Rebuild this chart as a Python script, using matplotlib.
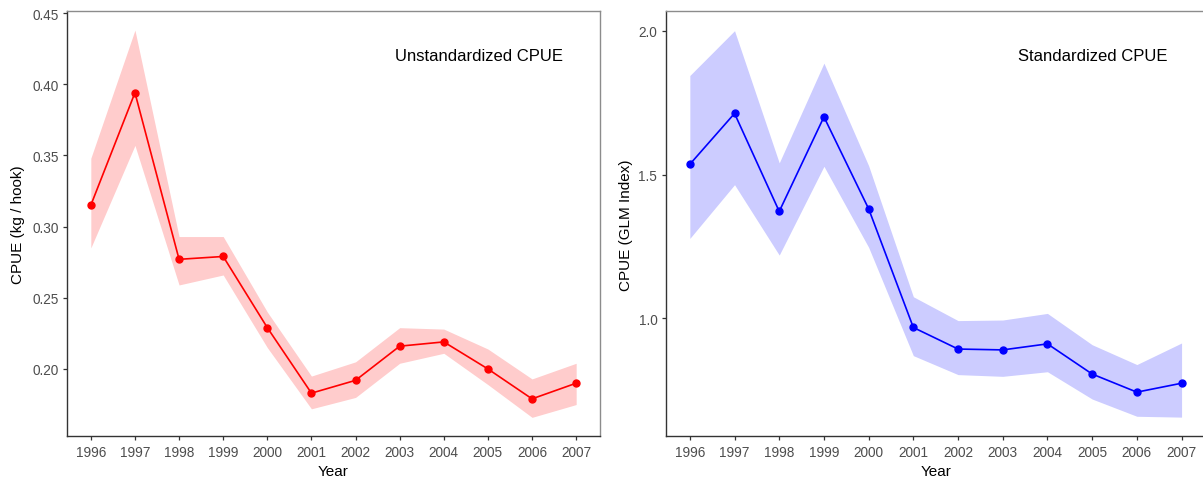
import matplotlib

matplotlib.use("Agg")
import matplotlib.pyplot as plt

plt.rcParams["font.family"] = ["Liberation Sans", "DejaVu Sans"]

YEARS = list(range(1996, 2008))

# unstandardized CPUE (kg / hook) with ribbon bounds
RAW_CPUE = [0.315, 0.394, 0.277, 0.279, 0.229, 0.183, 0.192, 0.216, 0.219, 0.200, 0.179, 0.190]
RAW_LO = [0.285, 0.357, 0.259, 0.266, 0.215, 0.172, 0.180, 0.204, 0.211, 0.189, 0.166, 0.175]
RAW_HI = [0.348, 0.438, 0.293, 0.293, 0.240, 0.195, 0.205, 0.229, 0.228, 0.214, 0.193, 0.204]
RAW_TICKS = [0.20, 0.25, 0.30, 0.35, 0.40, 0.45]

# standardized CPUE (GLM index) with ribbon bounds
GLM_CPUE = [1.536, 1.713, 1.372, 1.701, 1.381, 0.968, 0.893, 0.890, 0.911, 0.806, 0.743, 0.774]
GLM_LO = [1.278, 1.465, 1.220, 1.529, 1.247, 0.870, 0.804, 0.798, 0.814, 0.719, 0.659, 0.656]
GLM_HI = [1.845, 2.001, 1.541, 1.888, 1.531, 1.075, 0.992, 0.994, 1.017, 0.908, 0.839, 0.914]
GLM_TICKS = [1.0, 1.5, 2.0]

W, H = 1203, 481


def panel(fig, rect, y, lo, hi, color, fill, label, label_x, ylabel, yticks, fmt, ylim, ylab_x):
    ax = fig.add_axes(rect)
    ax.fill_between(YEARS, lo, hi, color=fill, linewidth=0, zorder=1)
    ax.plot(YEARS, y, color=color, linewidth=1.2, marker="o", markersize=5, zorder=3)
    ax.set_xlim(1995.46, 2007.54)
    ax.set_ylim(*ylim)
    ax.set_xticks(YEARS)
    ax.set_yticks(yticks)
    ax.set_yticklabels([fmt.format(t) for t in yticks])
    ax.tick_params(length=3, width=0.9, color="#333333", labelcolor="#4D4D4D", labelsize=9.8, pad=3)
    for side in ("left", "bottom"):
        ax.spines[side].set_color("#333333")
        ax.spines[side].set_linewidth(1.0)
    for side in ("top", "right"):
        ax.spines[side].set_color("#8C8C8C")
        ax.spines[side].set_linewidth(1.0)
    ax.set_xlabel("Year", fontsize=11)
    ax.set_ylabel(ylabel, fontsize=11)
    ax.xaxis.set_label_coords(0.5, -0.066)
    ax.yaxis.set_label_coords(ylab_x, 0.5)
    ax.text(label_x, 0.897, label, transform=ax.transAxes, ha="center", va="center", fontsize=12)
    return ax


fig = plt.figure(figsize=(W / 100, H / 100), dpi=100)

bottom = (H - 437.3) / H
height = 425 / H
panel(fig, [67 / W, bottom, 533 / W, height], RAW_CPUE, RAW_LO, RAW_HI,
      "#FF0000", "#FFCCCC", "Unstandardized CPUE", 0.773, "CPUE (kg / hook)",
      RAW_TICKS, "{:.2f}", (0.1527, 0.4512), -0.078)
# right panel runs a few pixels past the figure edge, as in the reference crop
panel(fig, [665.7 / W, bottom, 540 / W, height], GLM_CPUE, GLM_LO, GLM_HI,
      "#0000FF", "#CCCCFF", "Standardized CPUE", (1093 - 665.7) / 540, "CPUE (GLM Index)",
      GLM_TICKS, "{:.1f}", (0.5893, 2.0685), -0.06)

fig.savefig("out.png", dpi=100)
